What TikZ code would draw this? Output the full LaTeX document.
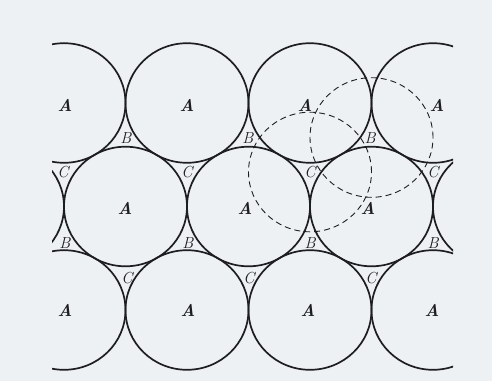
\documentclass[tikz,border=0pt]{standalone}
\definecolor{paper}{RGB}{238,241,244}
\definecolor{ink}{RGB}{30,30,34}
\begin{document}
\begin{tikzpicture}[x=1pt,y=-1pt,
  ball/.style={draw=ink, line width=1.7pt},
  ghost/.style={draw=ink, line width=0.9pt, dash pattern=on 6pt off 4pt},
  lblA/.style={font=\fontsize{17}{19}\selectfont\bfseries\itshape, text=ink, inner sep=0pt},
  lblBC/.style={font=\fontsize{16}{18}\selectfont\itshape, text=ink, inner sep=0pt}]
\fill[paper] (0,0) rectangle (492,381);
\useasboundingbox (0,0) rectangle (492,381);
\begin{scope}
  \clip (52,0) rectangle (453,381);
  \foreach \x in {64,187,310,433} {
    \draw[ball] (\x,103) ellipse [x radius=61.5pt, y radius=59.8pt];
    \draw[ball] (\x,310) ellipse [x radius=61.5pt, y radius=59.8pt];
  }
  \foreach \x in {2.5,125.5,248.5,371.5,494.5} {
    \draw[ball] (\x,206.5) ellipse [x radius=61.5pt, y radius=59.8pt];
  }
\end{scope}
% dashed circles centred on a B hole and a C hole
\draw[ghost] (371.5,137.5) ellipse [x radius=61.5pt, y radius=59.8pt];
\draw[ghost] (310,172) ellipse [x radius=61.5pt, y radius=59.8pt];
% A labels
\node[lblA] (a1) at (65,105) {A};
\node[lblA] (a2) at (187,105) {A};
\node[lblA] (a3) at (305,105) {A};
\node[lblA] (a4) at (437,105) {A};
\node[lblA] (a5) at (125,208) {A};
\node[lblA] (a6) at (245,208) {A};
\node[lblA] (a7) at (368,208) {A};
\node[lblA] (a8) at (65,310) {A};
\node[lblA] (a9) at (188,310) {A};
\node[lblA] (a10) at (308,310) {A};
\node[lblA] (a11) at (432,310) {A};
% B labels
\node[lblBC] (b1) at (126,138) {B};
\node[lblBC] (b2) at (248,138) {B};
\node[lblBC] (b3) at (370,138) {B};
\node[lblBC] (b4) at (65,243) {B};
\node[lblBC] (b5) at (188,243) {B};
\node[lblBC] (b6) at (310,243) {B};
\node[lblBC] (b7) at (433,243) {B};
% C labels
\node[lblBC] (c1) at (63,172) {C};
\node[lblBC] (c2) at (187,172) {C};
\node[lblBC] (c3) at (310,172) {C};
\node[lblBC] (c4) at (433,172) {C};
\node[lblBC] (c5) at (127,278) {C};
\node[lblBC] (c6) at (249,278) {C};
\node[lblBC] (c7) at (371,278) {C};
\end{tikzpicture}
\end{document}
